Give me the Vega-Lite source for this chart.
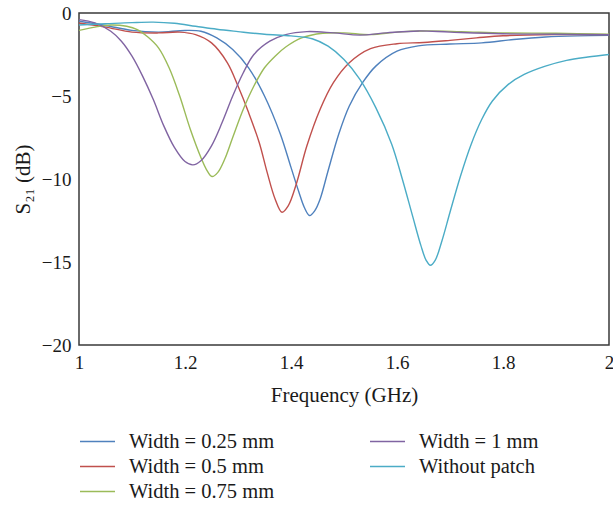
{
  "$schema": "https://vega.github.io/schema/vega-lite/v6.json",
  "autosize": {"type": "none"},
  "width": 530,
  "height": 332,
  "padding": {"left": 79, "top": 13, "right": 4, "bottom": 161},
  "background": "white",
  "config": {
    "view": {"stroke": "#3a3a3a", "strokeWidth": 1.5},
    "font": "Liberation Serif",
    "axis": {"labelFont": "Liberation Serif", "titleFont": "Liberation Serif", "labelColor": "#1a1a1a", "titleColor": "#1a1a1a", "titleFontWeight": "normal", "grid": false, "ticks": false, "domain": false, "labelFontSize": 19, "titleFontSize": 21},
    "legend": {"labelFont": "Liberation Serif", "labelFontSize": 20.5, "labelColor": "#1a1a1a"}
  },
  "data": {
    "values": [
      {"s": "Width = 0.25 mm", "f": 1.00, "v": -0.50},
      {"s": "Width = 0.25 mm", "f": 1.05, "v": -0.75},
      {"s": "Width = 0.25 mm", "f": 1.10, "v": -1.05},
      {"s": "Width = 0.25 mm", "f": 1.15, "v": -1.15},
      {"s": "Width = 0.25 mm", "f": 1.20, "v": -1.05},
      {"s": "Width = 0.25 mm", "f": 1.23, "v": -1.10},
      {"s": "Width = 0.25 mm", "f": 1.26, "v": -1.50},
      {"s": "Width = 0.25 mm", "f": 1.29, "v": -2.20},
      {"s": "Width = 0.25 mm", "f": 1.32, "v": -3.30},
      {"s": "Width = 0.25 mm", "f": 1.35, "v": -5.00},
      {"s": "Width = 0.25 mm", "f": 1.38, "v": -7.30},
      {"s": "Width = 0.25 mm", "f": 1.40, "v": -9.30},
      {"s": "Width = 0.25 mm", "f": 1.415, "v": -10.8},
      {"s": "Width = 0.25 mm", "f": 1.425, "v": -11.7},
      {"s": "Width = 0.25 mm", "f": 1.435, "v": -12.2},
      {"s": "Width = 0.25 mm", "f": 1.445, "v": -11.9},
      {"s": "Width = 0.25 mm", "f": 1.455, "v": -11.2},
      {"s": "Width = 0.25 mm", "f": 1.47, "v": -9.5},
      {"s": "Width = 0.25 mm", "f": 1.49, "v": -7.3},
      {"s": "Width = 0.25 mm", "f": 1.51, "v": -5.6},
      {"s": "Width = 0.25 mm", "f": 1.535, "v": -4.2},
      {"s": "Width = 0.25 mm", "f": 1.56, "v": -3.2},
      {"s": "Width = 0.25 mm", "f": 1.60, "v": -2.3},
      {"s": "Width = 0.25 mm", "f": 1.64, "v": -1.98},
      {"s": "Width = 0.25 mm", "f": 1.70, "v": -1.87},
      {"s": "Width = 0.25 mm", "f": 1.76, "v": -1.80},
      {"s": "Width = 0.25 mm", "f": 1.82, "v": -1.60},
      {"s": "Width = 0.25 mm", "f": 1.88, "v": -1.45},
      {"s": "Width = 0.25 mm", "f": 1.94, "v": -1.38},
      {"s": "Width = 0.25 mm", "f": 2.00, "v": -1.35},

      {"s": "Width = 0.5 mm", "f": 1.00, "v": -0.60},
      {"s": "Width = 0.5 mm", "f": 1.05, "v": -0.85},
      {"s": "Width = 0.5 mm", "f": 1.10, "v": -1.15},
      {"s": "Width = 0.5 mm", "f": 1.15, "v": -1.20},
      {"s": "Width = 0.5 mm", "f": 1.19, "v": -1.15},
      {"s": "Width = 0.5 mm", "f": 1.22, "v": -1.30},
      {"s": "Width = 0.5 mm", "f": 1.25, "v": -1.80},
      {"s": "Width = 0.5 mm", "f": 1.28, "v": -3.00},
      {"s": "Width = 0.5 mm", "f": 1.30, "v": -4.40},
      {"s": "Width = 0.5 mm", "f": 1.32, "v": -6.00},
      {"s": "Width = 0.5 mm", "f": 1.34, "v": -7.80},
      {"s": "Width = 0.5 mm", "f": 1.355, "v": -9.6},
      {"s": "Width = 0.5 mm", "f": 1.37, "v": -11.2},
      {"s": "Width = 0.5 mm", "f": 1.383, "v": -12.0},
      {"s": "Width = 0.5 mm", "f": 1.395, "v": -11.6},
      {"s": "Width = 0.5 mm", "f": 1.41, "v": -10.3},
      {"s": "Width = 0.5 mm", "f": 1.43, "v": -8.0},
      {"s": "Width = 0.5 mm", "f": 1.455, "v": -5.8},
      {"s": "Width = 0.5 mm", "f": 1.48, "v": -4.2},
      {"s": "Width = 0.5 mm", "f": 1.51, "v": -3.0},
      {"s": "Width = 0.5 mm", "f": 1.55, "v": -2.15},
      {"s": "Width = 0.5 mm", "f": 1.60, "v": -1.85},
      {"s": "Width = 0.5 mm", "f": 1.65, "v": -1.78},
      {"s": "Width = 0.5 mm", "f": 1.70, "v": -1.65},
      {"s": "Width = 0.5 mm", "f": 1.75, "v": -1.50},
      {"s": "Width = 0.5 mm", "f": 1.80, "v": -1.37},
      {"s": "Width = 0.5 mm", "f": 1.90, "v": -1.30},
      {"s": "Width = 0.5 mm", "f": 2.00, "v": -1.30},

      {"s": "Width = 0.75 mm", "f": 1.00, "v": -1.05},
      {"s": "Width = 0.75 mm", "f": 1.03, "v": -0.85},
      {"s": "Width = 0.75 mm", "f": 1.06, "v": -0.72},
      {"s": "Width = 0.75 mm", "f": 1.09, "v": -0.80},
      {"s": "Width = 0.75 mm", "f": 1.11, "v": -1.00},
      {"s": "Width = 0.75 mm", "f": 1.13, "v": -1.45},
      {"s": "Width = 0.75 mm", "f": 1.15, "v": -2.10},
      {"s": "Width = 0.75 mm", "f": 1.17, "v": -3.30},
      {"s": "Width = 0.75 mm", "f": 1.19, "v": -5.00},
      {"s": "Width = 0.75 mm", "f": 1.21, "v": -7.00},
      {"s": "Width = 0.75 mm", "f": 1.23, "v": -8.70},
      {"s": "Width = 0.75 mm", "f": 1.24, "v": -9.40},
      {"s": "Width = 0.75 mm", "f": 1.251, "v": -9.85},
      {"s": "Width = 0.75 mm", "f": 1.262, "v": -9.60},
      {"s": "Width = 0.75 mm", "f": 1.275, "v": -8.80},
      {"s": "Width = 0.75 mm", "f": 1.29, "v": -7.50},
      {"s": "Width = 0.75 mm", "f": 1.31, "v": -5.80},
      {"s": "Width = 0.75 mm", "f": 1.33, "v": -4.40},
      {"s": "Width = 0.75 mm", "f": 1.35, "v": -3.30},
      {"s": "Width = 0.75 mm", "f": 1.37, "v": -2.60},
      {"s": "Width = 0.75 mm", "f": 1.39, "v": -2.05},
      {"s": "Width = 0.75 mm", "f": 1.42, "v": -1.50},
      {"s": "Width = 0.75 mm", "f": 1.46, "v": -1.22},
      {"s": "Width = 0.75 mm", "f": 1.50, "v": -1.20},
      {"s": "Width = 0.75 mm", "f": 1.55, "v": -1.30},
      {"s": "Width = 0.75 mm", "f": 1.60, "v": -1.15},
      {"s": "Width = 0.75 mm", "f": 1.65, "v": -1.08},
      {"s": "Width = 0.75 mm", "f": 1.72, "v": -1.12},
      {"s": "Width = 0.75 mm", "f": 1.80, "v": -1.20},
      {"s": "Width = 0.75 mm", "f": 1.90, "v": -1.22},
      {"s": "Width = 0.75 mm", "f": 2.00, "v": -1.28},

      {"s": "Width = 1 mm", "f": 1.00, "v": -0.40},
      {"s": "Width = 1 mm", "f": 1.03, "v": -0.60},
      {"s": "Width = 1 mm", "f": 1.06, "v": -1.10},
      {"s": "Width = 1 mm", "f": 1.08, "v": -1.70},
      {"s": "Width = 1 mm", "f": 1.10, "v": -2.60},
      {"s": "Width = 1 mm", "f": 1.12, "v": -3.80},
      {"s": "Width = 1 mm", "f": 1.14, "v": -5.20},
      {"s": "Width = 1 mm", "f": 1.16, "v": -6.80},
      {"s": "Width = 1 mm", "f": 1.18, "v": -8.10},
      {"s": "Width = 1 mm", "f": 1.20, "v": -8.95},
      {"s": "Width = 1 mm", "f": 1.215, "v": -9.15},
      {"s": "Width = 1 mm", "f": 1.23, "v": -8.90},
      {"s": "Width = 1 mm", "f": 1.25, "v": -8.00},
      {"s": "Width = 1 mm", "f": 1.27, "v": -6.60},
      {"s": "Width = 1 mm", "f": 1.29, "v": -5.00},
      {"s": "Width = 1 mm", "f": 1.31, "v": -3.60},
      {"s": "Width = 1 mm", "f": 1.33, "v": -2.50},
      {"s": "Width = 1 mm", "f": 1.36, "v": -1.70},
      {"s": "Width = 1 mm", "f": 1.39, "v": -1.30},
      {"s": "Width = 1 mm", "f": 1.43, "v": -1.12},
      {"s": "Width = 1 mm", "f": 1.48, "v": -1.20},
      {"s": "Width = 1 mm", "f": 1.53, "v": -1.33},
      {"s": "Width = 1 mm", "f": 1.58, "v": -1.20},
      {"s": "Width = 1 mm", "f": 1.64, "v": -1.08},
      {"s": "Width = 1 mm", "f": 1.70, "v": -1.15},
      {"s": "Width = 1 mm", "f": 1.80, "v": -1.25},
      {"s": "Width = 1 mm", "f": 1.90, "v": -1.28},
      {"s": "Width = 1 mm", "f": 2.00, "v": -1.30},

      {"s": "Without patch", "f": 1.00, "v": -0.72},
      {"s": "Without patch", "f": 1.05, "v": -0.65},
      {"s": "Without patch", "f": 1.10, "v": -0.58},
      {"s": "Without patch", "f": 1.14, "v": -0.55},
      {"s": "Without patch", "f": 1.18, "v": -0.62},
      {"s": "Without patch", "f": 1.22, "v": -0.80},
      {"s": "Without patch", "f": 1.26, "v": -0.98},
      {"s": "Without patch", "f": 1.30, "v": -1.12},
      {"s": "Without patch", "f": 1.35, "v": -1.28},
      {"s": "Without patch", "f": 1.40, "v": -1.38},
      {"s": "Without patch", "f": 1.44, "v": -1.55},
      {"s": "Without patch", "f": 1.47, "v": -2.00},
      {"s": "Without patch", "f": 1.50, "v": -2.80},
      {"s": "Without patch", "f": 1.53, "v": -4.00},
      {"s": "Without patch", "f": 1.56, "v": -5.70},
      {"s": "Without patch", "f": 1.59, "v": -7.90},
      {"s": "Without patch", "f": 1.61, "v": -10.0},
      {"s": "Without patch", "f": 1.63, "v": -12.3},
      {"s": "Without patch", "f": 1.645, "v": -14.0},
      {"s": "Without patch", "f": 1.655, "v": -14.9},
      {"s": "Without patch", "f": 1.663, "v": -15.2},
      {"s": "Without patch", "f": 1.672, "v": -14.9},
      {"s": "Without patch", "f": 1.685, "v": -13.7},
      {"s": "Without patch", "f": 1.70, "v": -12.0},
      {"s": "Without patch", "f": 1.72, "v": -9.8},
      {"s": "Without patch", "f": 1.74, "v": -7.9},
      {"s": "Without patch", "f": 1.76, "v": -6.4},
      {"s": "Without patch", "f": 1.78, "v": -5.3},
      {"s": "Without patch", "f": 1.81, "v": -4.3},
      {"s": "Without patch", "f": 1.84, "v": -3.7},
      {"s": "Without patch", "f": 1.88, "v": -3.2},
      {"s": "Without patch", "f": 1.92, "v": -2.85},
      {"s": "Without patch", "f": 1.96, "v": -2.65},
      {"s": "Without patch", "f": 2.00, "v": -2.50}
    ]
  },
  "mark": {"type": "line", "interpolate": "catmull-rom", "strokeWidth": 1.4, "clip": true},
  "encoding": {
    "x": {
      "field": "f", "type": "quantitative",
      "scale": {"domain": [1, 2], "nice": false, "zero": false},
      "axis": {"values": [1, 1.2, 1.4, 1.6, 1.8, 2], "format": "~g", "title": "Frequency (GHz)", "labelPadding": 8, "titlePadding": 12, "labelFlush": false}
    },
    "y": {
      "field": "v", "type": "quantitative",
      "scale": {"domain": [-20, 0], "nice": false},
      "axis": {"values": [-20, -15, -10, -5, 0], "title": "S₂₁ (dB)", "labelPadding": 8, "titlePadding": 8, "labelFlush": false}
    },
    "color": {
      "field": "s", "type": "nominal",
      "scale": {
        "domain": ["Width = 0.25 mm", "Width = 0.5 mm", "Width = 0.75 mm", "Width = 1 mm", "Without patch"],
        "range": ["#4f81bd", "#c0504d", "#9bbb59", "#8064a2", "#4bacc6"]
      },
      "legend": {
        "title": null, "orient": "none", "legendX": 5, "legendY": 415,
        "columns": 2, "columnPadding": 92, "rowPadding": 1,
        "symbolType": "M-1.4,0H1.4", "symbolSize": 625, "symbolStrokeWidth": 1.5, "labelOffset": 18
      }
    }
  }
}
